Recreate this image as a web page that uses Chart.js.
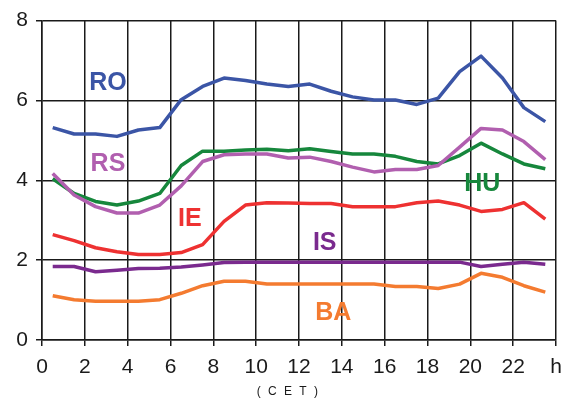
<!DOCTYPE html>
<html>
<head>
<meta charset="utf-8">
<script src="https://cdn.jsdelivr.net/npm/chart.js@4/dist/chart.umd.min.js"></script>
<style>
  html, body { margin: 0; padding: 0; background: #fff; }
  #wrap { width: 580px; height: 405px; position: relative; }
</style>
</head>
<body>
<div id="wrap"><canvas id="chart"></canvas></div>
<script>
const hours = [0.5, 1.5, 2.5, 3.5, 4.5, 5.5, 6.5, 7.5, 8.5, 9.5, 10.5, 11.5,
               12.5, 13.5, 14.5, 15.5, 16.5, 17.5, 18.5, 19.5, 20.5, 21.5, 22.5, 23.5];

const RO = [5.32, 5.16, 5.16, 5.10, 5.26, 5.32, 6.02, 6.35, 6.56, 6.50, 6.41, 6.35,
            6.41, 6.23, 6.09, 6.01, 6.01, 5.90, 6.06, 6.72, 7.11, 6.56, 5.82, 5.47];
const RS = [4.17, 3.63, 3.34, 3.18, 3.18, 3.38, 3.86, 4.47, 4.64, 4.66, 4.66, 4.56,
            4.58, 4.47, 4.33, 4.21, 4.27, 4.27, 4.37, 4.83, 5.30, 5.26, 4.97, 4.52];
const HU = [4.04, 3.67, 3.47, 3.38, 3.48, 3.67, 4.37, 4.73, 4.73, 4.76, 4.78, 4.74,
            4.79, 4.72, 4.66, 4.66, 4.60, 4.47, 4.41, 4.62, 4.93, 4.66, 4.41, 4.29];
const IE = [2.64, 2.49, 2.31, 2.21, 2.14, 2.14, 2.19, 2.39, 2.97, 3.38, 3.44, 3.43,
            3.42, 3.42, 3.34, 3.34, 3.34, 3.44, 3.48, 3.38, 3.22, 3.27, 3.44, 3.03];
const IS = [1.84, 1.84, 1.71, 1.75, 1.79, 1.80, 1.83, 1.88, 1.94, 1.95, 1.95, 1.95,
            1.95, 1.95, 1.95, 1.95, 1.95, 1.95, 1.95, 1.95, 1.84, 1.90, 1.95, 1.90];
const BA = [1.11, 1.01, 0.97, 0.97, 0.97, 1.01, 1.17, 1.36, 1.47, 1.47, 1.40, 1.40,
            1.40, 1.40, 1.40, 1.40, 1.34, 1.34, 1.29, 1.40, 1.67, 1.57, 1.36, 1.20];

const xTicks = [0, 2, 4, 6, 8, 10, 12, 14, 16, 18, 20, 22, 'h'];
const yTicks = [0, 2, 4, 6, 8];

// series name, values, colour, label anchor (hour, value)
const series = [
  { name: 'RO', values: RO, color: '#3B55A6', at: [3.08, 6.43] },
  { name: 'RS', values: RS, color: '#B15FAF', at: [3.08, 4.41] },
  { name: 'HU', values: HU, color: '#16873C', at: [20.56, 3.91] },
  { name: 'IE', values: IE, color: '#EE3131', at: [6.9, 3.02] },
  { name: 'IS', values: IS, color: '#7A2A8E', at: [13.2, 2.43] },
  { name: 'BA', values: BA, color: '#F47B30', at: [13.6, 0.67] }
];

const inkColor = '#1a1a1a';
const font = "'Liberation Sans', Arial, sans-serif";

const labelPlugin = {
  id: 'seriesLabels',
  afterDatasetsDraw(chart) {
    const ctx = chart.ctx;
    const xs = chart.scales.x, ys = chart.scales.y;
    ctx.save();
    ctx.font = 'bold 25px ' + font;
    ctx.textAlign = 'center';
    ctx.textBaseline = 'middle';
    series.forEach(s => {
      ctx.fillStyle = s.color;
      ctx.fillText(s.name, xs.getPixelForValue(s.at[0]), ys.getPixelForValue(s.at[1]));
    });
    // axis caption
    ctx.fillStyle = inkColor;
    ctx.font = '12px ' + font;
    ctx.letterSpacing = '2px';
    ctx.fillText('( C E T )', xs.getPixelForValue(11.5), 392);
    ctx.restore();
  }
};

new Chart(document.getElementById('chart'), {
  type: 'line',
  data: {
    datasets: series.map(s => ({
      label: s.name,
      data: hours.map((h, i) => ({ x: h, y: s.values[i] })),
      borderColor: s.color,
      backgroundColor: s.color,
      borderWidth: 3.5,
      pointRadius: 0,
      tension: 0,
      borderJoinStyle: 'round'
    }))
  },
  options: {
    responsive: true,
    maintainAspectRatio: false,
    animation: false,
    layout: { padding: { top: 16, right: 24, left: 0, bottom: 0 } },
    plugins: {
      legend: { display: false },
      tooltip: { enabled: false }
    },
    scales: {
      x: {
        type: 'linear',
        min: 0,
        max: 24,
        afterBuildTicks: scale => {
          scale.ticks = xTicks.map((t, i) => ({ value: i * 2 }));
        },
        afterFit: scale => { scale.height = 65; },
        grid: { color: inkColor, lineWidth: 1.5, tickLength: 6 },
        border: { color: inkColor, width: 1.5 },
        ticks: {
          autoSkip: false,
          maxRotation: 0,
          padding: 9,
          color: inkColor,
          font: { family: font, size: 21 },
          callback: (v, i) => xTicks[i]
        }
      },
      y: {
        min: 0,
        max: 8,
        afterBuildTicks: scale => {
          scale.ticks = yTicks.map(v => ({ value: v }));
        },
        afterFit: scale => { scale.width = 42; },
        grid: { color: inkColor, lineWidth: 1.5, tickLength: 6 },
        border: { color: inkColor, width: 1.5 },
        ticks: {
          padding: 8,
          color: inkColor,
          font: { family: font, size: 21 }
        }
      }
    }
  },
  plugins: [labelPlugin]
});
</script>
</body>
</html>
